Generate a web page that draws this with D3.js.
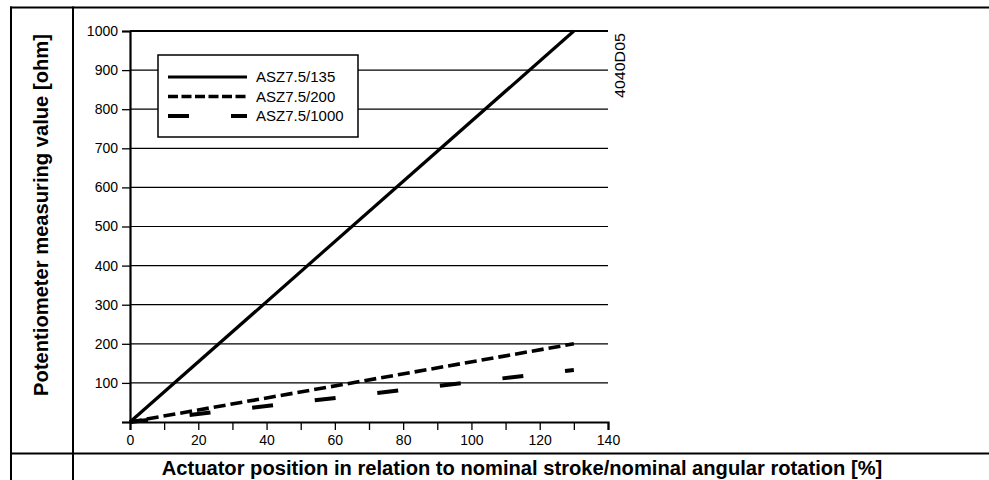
<!DOCTYPE html>
<html>
<head>
<meta charset="utf-8">
<script src="https://cdn.jsdelivr.net/npm/d3@7"></script>
<style>
  html, body { margin: 0; padding: 0; background: #fff; }
  svg { display: block; font-family: "Liberation Sans", Arial, sans-serif; }
</style>
</head>
<body>
<svg id="chart" width="989" height="480"></svg>
<script>
// ---- data ----
const seriesNames = ["ASZ7.5/135", "ASZ7.5/200", "ASZ7.5/1000"];
const positions = [0, 130];
const values135 = [0, 1000];
const values200 = [0, 200];
const values1000 = [0, 133];
const xTickValues = [0, 10, 20, 30, 40, 50, 60, 70, 80, 90, 100, 110, 120, 130, 140];
const xTickLabels = [0, 20, 40, 60, 80, 100, 120, 140];
const yTickValues = [0, 100, 200, 300, 400, 500, 600, 700, 800, 900, 1000];
const yTickLabels = [100, 200, 300, 400, 500, 600, 700, 800, 900, 1000];
const yTitle = "Potentiometer measuring value [ohm]";
const xTitle = "Actuator position in relation to nominal stroke/nominal angular rotation [%]";
const drawingCode = "4040D05";

const svg = d3.select("#chart");
const W = 989, H = 480;

// frame
const frame = svg.append("g").attr("stroke", "#000").attr("stroke-width", 2);
frame.append("line").attr("x1", 10).attr("x2", W).attr("y1", 7.5).attr("y2", 7.5);
frame.append("line").attr("x1", 11).attr("x2", 11).attr("y1", 6.5).attr("y2", H);
frame.append("line").attr("x1", 73).attr("x2", 73).attr("y1", 6.5).attr("y2", H);
frame.append("line").attr("x1", 10).attr("x2", W).attr("y1", 453.5).attr("y2", 453.5);

// scales
const x = d3.scaleLinear().domain([0, 140]).range([130, 608]);
const y = d3.scaleLinear().domain([0, 1000]).range([422, 31]);

// grid
svg.append("g").selectAll("line").data(yTickLabels).join("line")
  .attr("x1", x(0)).attr("x2", x(140))
  .attr("y1", d => y(d)).attr("y2", d => y(d))
  .attr("stroke", "#000")
  .attr("stroke-width", d => d === 1000 ? 2 : 1.2);

// axes
const yAxis = d3.axisLeft(y).tickValues(yTickValues).tickSize(8).tickSizeOuter(8).tickPadding(4)
  .tickFormat(d => yTickLabels.includes(d) ? d : "");
const gy = svg.append("g").attr("transform", `translate(${x(0)},0)`).call(yAxis);
const xAxis = d3.axisBottom(x).tickValues(xTickValues).tickSize(8).tickSizeOuter(8).tickPadding(5)
  .tickFormat(d => xTickLabels.includes(d) ? d : "");
const gx = svg.append("g").attr("transform", `translate(0,${y(0)})`).call(xAxis);
[gx, gy].forEach(g => {
  g.select(".domain").attr("stroke", "#000").attr("stroke-width", 2.2);
  g.selectAll(".tick line").attr("stroke", "#000").attr("stroke-width", 1.3);
  g.selectAll(".tick text").attr("fill", "#000").attr("font-size", 14)
    .attr("font-family", "'Liberation Sans', Arial, sans-serif");
});

// lines
const styles = [
  { vals: values135, width: 3.2, dash: null, offset: 0 },
  { vals: values200, width: 3.6, dash: "12,5", offset: 0 },
  { vals: values1000, width: 4, dash: "21,42", offset: 3 }
];
const line = d3.line().x(d => x(d[0])).y(d => y(d[1]));
styles.forEach(s => {
  svg.append("path")
    .datum(positions.map((p, i) => [p, s.vals[i]]))
    .attr("d", line)
    .attr("fill", "none")
    .attr("stroke", "#000")
    .attr("stroke-width", s.width)
    .attr("stroke-dasharray", s.dash)
    .attr("stroke-dashoffset", s.offset);
});

// legend
const lg = svg.append("g");
lg.append("rect").attr("x", 158).attr("y", 55).attr("width", 200).attr("height", 82)
  .attr("fill", "#fff").attr("stroke", "#000").attr("stroke-width", 1.5);
const rowsY = [77, 96.5, 116];
seriesNames.forEach((name, i) => {
  lg.append("line").attr("x1", 168).attr("x2", 247).attr("y1", rowsY[i]).attr("y2", rowsY[i])
    .attr("stroke", "#000").attr("stroke-width", styles[i].width)
    .attr("stroke-dasharray", i === 1 ? "10,3.5" : styles[i].dash);
  lg.append("text").attr("x", 256).attr("y", rowsY[i]).attr("dy", "0.35em")
    .attr("font-size", 15).text(name);
});

// drawing code
svg.append("text")
  .attr("transform", "translate(625,65.5) rotate(-90)")
  .attr("text-anchor", "middle").attr("font-size", 14)
  .attr("textLength", 65).attr("lengthAdjust", "spacingAndGlyphs")
  .text(drawingCode);

// titles, fitted to the reference widths
function fit(t, target, base) {
  const len = t.node().getComputedTextLength();
  t.attr("font-size", base * target / len);
}
const ty = svg.append("text")
  .attr("transform", "translate(48,215) rotate(-90)")
  .attr("text-anchor", "middle").attr("font-weight", "bold").attr("font-size", 19)
  .text(yTitle);
fit(ty, 362, 19);
const tx = svg.append("text")
  .attr("x", 522).attr("y", 475)
  .attr("text-anchor", "middle").attr("font-weight", "bold").attr("font-size", 19)
  .text(xTitle);
fit(tx, 721, 19);
</script>
</body>
</html>
